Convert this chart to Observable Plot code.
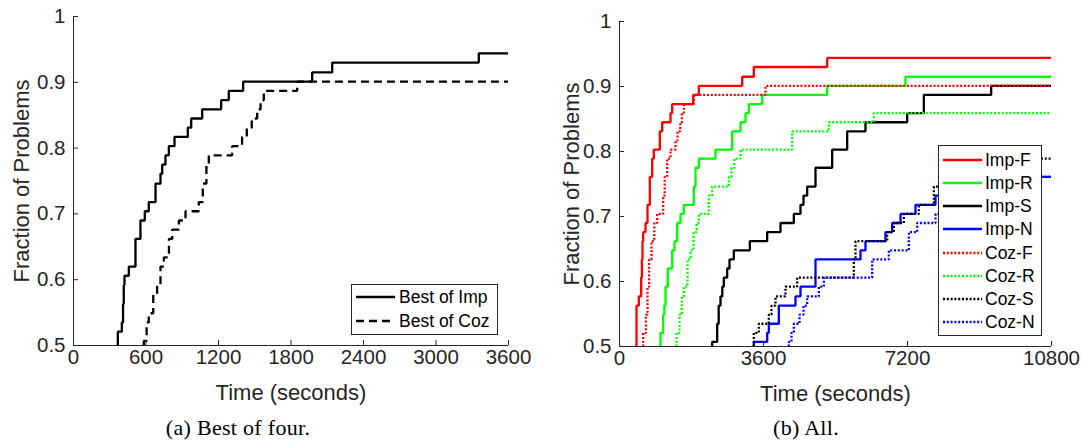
<!DOCTYPE html>
<html><head><meta charset="utf-8">
<script src="https://cdn.jsdelivr.net/npm/d3@7"></script>
<script src="https://cdn.jsdelivr.net/npm/@observablehq/plot@0.6"></script>
<style>
html,body{margin:0;padding:0;background:#fff;}
body{width:1081px;height:444px;position:relative;overflow:hidden;font-family:"Liberation Sans",Arial,sans-serif;}
.panel{position:absolute;top:0;}
.legend{position:absolute;background:#fff;border:1px solid #262626;box-sizing:border-box;}
.row{position:absolute;left:0;height:22px;display:flex;align-items:center;white-space:nowrap;color:#000;}
.row svg{display:block;}
.caption{position:absolute;top:415px;font-family:"Liberation Serif","Times New Roman",serif;font-size:22px;letter-spacing:0.3px;transform:translateX(-50%);white-space:nowrap;color:#000;}
</style></head><body>
<div id="a" class="panel" style="left:0"></div>
<div id="b" class="panel" style="left:560px"></div>
<div class="caption" style="left:238px">(a) Best of four.</div>
<div class="caption" style="left:806px">(b) All.</div>
<script>
// ---- data (times in seconds, fraction of problems) ----
const yTicks = [0.5, 0.6, 0.7, 0.8, 0.9, 1];
const xTicksA = [0, 600, 1200, 1800, 2400, 3000, 3600];
const xTicksB = [0, 3600, 7200, 10800];

const bestImpTime = [367,367,400,410,416,422,458,513,554,590,623,679,720,734,761,789,836,946,974,1065,1222,1285,1404,1975,2141,3354,3600];
const bestImpFrac = [0.5,0.521,0.535,0.563,0.592,0.606,0.620,0.662,0.690,0.704,0.718,0.746,0.761,0.775,0.789,0.803,0.817,0.831,0.845,0.859,0.873,0.887,0.901,0.915,0.930,0.944,0.944];
const bestCozTime = [582,582,605,623,660,692,720,748,790,817,872,927,1037,1070,1100,1120,1313,1395,1434,1475,1520,1548,1575,1851,3600];
const bestCozFrac = [0.5,0.507,0.535,0.549,0.577,0.592,0.620,0.634,0.662,0.676,0.690,0.704,0.718,0.746,0.775,0.789,0.803,0.817,0.831,0.845,0.859,0.873,0.887,0.901,0.901];

const impFTime = [425,425,483,542,560,575,592,650,700,758,817,858,1008,1067,1275,1317,1842,1983,3067,3358,5192,10800];
const impFFrac = [0.5,0.563,0.577,0.606,0.634,0.662,0.676,0.690,0.718,0.761,0.789,0.803,0.831,0.845,0.859,0.873,0.887,0.901,0.915,0.930,0.944,0.944];
const impRTime = [1025,1025,1092,1120,1150,1208,1317,1375,1442,1525,1608,1858,1900,1983,2400,2817,3025,3150,3233,3567,5192,7150,10800];
const impRFrac = [0.5,0.521,0.549,0.563,0.592,0.620,0.648,0.662,0.690,0.704,0.718,0.746,0.775,0.789,0.803,0.831,0.845,0.859,0.873,0.887,0.901,0.915,0.915];
const impSTime = [2317,2317,2442,2480,2525,2570,2608,2692,2750,2858,3258,3692,4025,4358,4525,4600,4692,4900,5317,5692,6150,7192,7608,9292,10800];
const impSFrac = [0.5,0.507,0.535,0.563,0.577,0.592,0.606,0.620,0.634,0.648,0.662,0.676,0.690,0.704,0.718,0.732,0.746,0.775,0.803,0.831,0.845,0.859,0.887,0.901,0.901];
const impNTime = [3358,3358,3692,3733,3983,4400,4525,4900,6025,6150,6650,6817,7025,7400,7900,8400,9100,10800];
const impNFrac = [0.5,0.507,0.521,0.535,0.563,0.577,0.592,0.634,0.648,0.662,0.676,0.690,0.704,0.718,0.732,0.746,0.761,0.761];
const cozFTime = [592,592,660,700,740,800,870,942,1092,1130,1192,1275,1400,1450,1520,1560,1608,1858,3650,10800];
const cozFFrac = [0.5,0.521,0.549,0.592,0.634,0.662,0.690,0.704,0.732,0.761,0.789,0.803,0.817,0.831,0.845,0.859,0.873,0.887,0.901,0.901];
const cozRTime = [1425,1425,1500,1560,1608,1700,1775,1850,1930,1983,2233,2317,2733,2800,2870,3025,4317,5233,6358,10800];
const cozRFrac = [0.5,0.521,0.549,0.577,0.592,0.634,0.648,0.676,0.690,0.704,0.732,0.746,0.761,0.775,0.789,0.803,0.831,0.845,0.859,0.859];
const cozSTime = [3358,3358,3483,3733,3800,3900,4150,4442,5858,5900,6692,6858,7108,7483,7860,8200,8700,9400,10800];
const cozSFrac = [0.5,0.521,0.535,0.549,0.563,0.577,0.592,0.606,0.634,0.662,0.676,0.690,0.704,0.718,0.746,0.761,0.775,0.789,0.789];
const cozNTime = [4233,4233,4300,4358,4500,4600,4692,4983,5108,6317,6733,7233,7442,7900,8300,8800,9300,9800,10800];
const cozNFrac = [0.5,0.507,0.521,0.535,0.549,0.563,0.577,0.592,0.606,0.634,0.648,0.676,0.690,0.704,0.718,0.732,0.746,0.761,0.761];

// ---- styles ----
const AX = "#262626";
const DOT = "2,1.8", DASH = "8,5";
const seriesA = [
  {name: "Best of Imp", t: bestImpTime, f: bestImpFrac, color: "#000", dash: null},
  {name: "Best of Coz", t: bestCozTime, f: bestCozFrac, color: "#000", dash: DASH}
];
const seriesB = [
  {name: "Imp-F", t: impFTime, f: impFFrac, color: "#ff0000", dash: null},
  {name: "Imp-R", t: impRTime, f: impRFrac, color: "#00ff00", dash: null},
  {name: "Imp-S", t: impSTime, f: impSFrac, color: "#000000", dash: null},
  {name: "Imp-N", t: impNTime, f: impNFrac, color: "#0000ff", dash: null},
  {name: "Coz-F", t: cozFTime, f: cozFFrac, color: "#ff0000", dash: DOT},
  {name: "Coz-R", t: cozRTime, f: cozRFrac, color: "#00ff00", dash: DOT},
  {name: "Coz-S", t: cozSTime, f: cozSFrac, color: "#000000", dash: DOT},
  {name: "Coz-N", t: cozNTime, f: cozNFrac, color: "#0000ff", dash: DOT}
];

function panel({width, marginLeft, marginRight, marginTop, marginBottom, xDomain, xTicks, series, sw, ylabDx}) {
  const height = 405;
  const plotW = width - marginLeft - marginRight;
  const plotH = height - marginTop - marginBottom;
  const lines = series.map(s => Plot.line(s.t.map((t, i) => ({t, f: s.f[i]})), {
    x: "t", y: "f", curve: "step-after", stroke: s.color, strokeWidth: sw,
    strokeDasharray: s.dash || undefined, clip: true, strokeLinejoin: "miter", strokeLinecap: "butt"
  }));
  return Plot.plot({
    width, height, marginLeft, marginRight, marginTop, marginBottom,
    style: {fontFamily: '"Liberation Sans", Arial, sans-serif', fontSize: "20px", color: AX, background: "#fff", overflow: "visible"},
    x: {domain: xDomain},
    y: {domain: [0.5, 1]},
    marks: [
      ...lines,
      Plot.ruleX([xDomain[0]], {stroke: AX, strokeWidth: 1}),
      Plot.ruleY([0.5], {stroke: AX, strokeWidth: 1}),
      Plot.tickX(xTicks, {x: d => d, insetTop: plotH - 5, stroke: AX}),
      Plot.tickY(yTicks, {y: d => d, insetRight: plotW - 5, stroke: AX}),
      Plot.axisX(xTicks, {tickSize: 0, tickPadding: 4, label: null, tickFormat: d => String(d), fill: AX, fontSize: 20.5}),
      Plot.axisY(yTicks, {tickSize: 0, tickPadding: 8, label: null, tickFormat: d => String(d), fill: AX, fontSize: 20.5}),
      Plot.text(["Time (seconds)"], {frameAnchor: "bottom", dy: 47, fontSize: 22, fill: AX, textAnchor: "middle", lineAnchor: "middle"}),
      Plot.text(["Fraction of Problems"], {frameAnchor: "left", dx: ylabDx, rotate: -90, fontSize: 22, fill: AX, textAnchor: "middle", lineAnchor: "middle"})
    ]
  });
}

document.getElementById("a").append(panel({width: 540, marginLeft: 73, marginRight: 32, marginTop: 16, marginBottom: 60,
  xDomain: [0, 3600], xTicks: xTicksA, series: seriesA, sw: 2.3, ylabDx: -52}));
document.getElementById("b").append(panel({width: 521, marginLeft: 59, marginRight: 30, marginTop: 21, marginBottom: 59,
  xDomain: [0, 10800], xTicks: xTicksB, series: seriesB, sw: 2.3, ylabDx: -48}));

function legend(series, box, rows, sample) {
  const d = document.createElement("div");
  d.className = "legend";
  Object.assign(d.style, {left: box.x + "px", top: box.y + "px", width: box.w + "px", height: box.h + "px"});
  series.forEach((s, i) => {
    const r = document.createElement("div");
    r.className = "row";
    r.style.top = (rows[i] - box.y - 11 - 1) + "px";
    r.style.left = (sample.x0 - box.x - 1) + "px";
    r.style.fontSize = sample.fs + "px";
    const w = sample.x1 - sample.x0;
    r.innerHTML = `<svg width="${w}" height="22"><line x1="0" x2="${w}" y1="11" y2="11" stroke="${s.color}" stroke-width="2.3" ${s.dash ? `stroke-dasharray="${s.dash}"` : ""}/></svg><span style="margin-left:${sample.gap}px">${s.name}</span>`;
    d.append(r);
  });
  document.body.append(d);
}
legend(seriesA, {x: 351, y: 284, w: 147, h: 51}, [297, 321], {x0: 356, x1: 395, gap: 4, fs: 17.5});
legend(seriesB, {x: 938, y: 145, w: 104, h: 191}, [160, 183, 206, 229, 253, 276, 299, 322], {x0: 943, x1: 982, gap: 3, fs: 17.5});
</script>
</body></html>
